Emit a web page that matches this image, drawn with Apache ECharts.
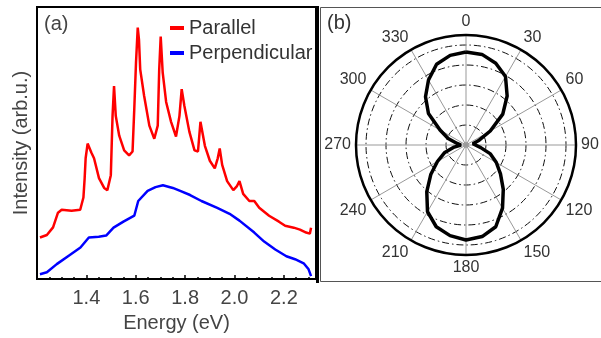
<!DOCTYPE html>
<html>
<head>
<meta charset="utf-8">
<script src="https://cdn.jsdelivr.net/npm/echarts@6/dist/echarts.min.js"></script>
<style>
  html, body { margin: 0; padding: 0; background: #fff; }
  #chart { width: 601px; height: 338px; }
</style>
</head>
<body>
<div id="chart"></div>
<script>
// panel (a): spectra (energy in eV, intensity in arb. units)
var parallelEnergy = [1.212, 1.24, 1.265, 1.285, 1.30, 1.34, 1.375, 1.388, 1.393, 1.397, 1.405, 1.411, 1.42, 1.431, 1.451, 1.472, 1.485, 1.499, 1.506, 1.512, 1.519, 1.533, 1.553, 1.573, 1.587, 1.594, 1.601, 1.608, 1.613, 1.618, 1.634, 1.655, 1.675, 1.689, 1.695, 1.701, 1.709, 1.723, 1.743, 1.763, 1.777, 1.786, 1.797, 1.817, 1.838, 1.852, 1.862, 1.868, 1.88, 1.90, 1.92, 1.932, 1.94, 1.95, 1.97, 1.995, 2.01, 2.02, 2.035, 2.06, 2.08, 2.10, 2.14, 2.18, 2.205, 2.24, 2.265, 2.29, 2.305, 2.31];
var parallel = [15.3, 16.2, 19, 24.4, 25.5, 25.1, 25.5, 30, 37, 44.4, 49.8, 49.2, 46.5, 44.4, 37.1, 33.5, 32.7, 38.2, 60, 70.9, 60, 52.7, 47.3, 45.5, 46.9, 62.5, 79.6, 92.4, 88, 77.1, 67.3, 56.4, 51.6, 56.4, 77.1, 89.1, 76, 65.1, 57.8, 52.4, 60, 69.8, 63.6, 54.2, 47.3, 46.9, 57.8, 58.5, 49, 43.5, 40.7, 44.4, 48, 42, 36, 32.7, 34.2, 36, 31.3, 28.7, 28.7, 26.2, 23.3, 21.1, 19.6, 18.9, 18.2, 17.1, 16.7, 18.9];
var perpendicularEnergy = [1.212, 1.24, 1.28, 1.33, 1.376, 1.41, 1.45, 1.48, 1.51, 1.55, 1.594, 1.61, 1.648, 1.68, 1.71, 1.75, 1.78, 1.82, 1.866, 1.93, 1.98, 2.02, 2.08, 2.12, 2.165, 2.21, 2.245, 2.28, 2.30, 2.31];
var perpendicular = [1.8, 2.5, 5.5, 8.7, 11.6, 15.3, 15.6, 16, 18.9, 21.1, 23.3, 28.7, 32.4, 33.8, 34.5, 33.5, 32.4, 30.9, 28.7, 26.2, 24, 21.5, 17.1, 13.8, 10.9, 8.4, 7.3, 5.8, 3.6, 1.1];

// panel (b): polar intensity vs angle (degrees)
var angles = [0, 10, 20, 30, 40, 50, 60, 70, 80, 90, 100, 110, 120, 130, 140, 150, 160, 170, 180, 190, 200, 210, 220, 230, 240, 250, 260, 270, 280, 290, 300, 310, 320, 330, 340, 350, 360];
var radii = [93, 92, 87, 79, 64, 48, 28, 14, 7, 5, 15, 26, 35, 45, 58, 73, 87, 93, 95, 92, 87, 77, 61, 46, 33, 23, 12, 5, 9, 19, 30, 49, 63, 75, 86, 91, 93];

var font = "Arial, 'Liberation Sans', sans-serif";

function pairs(xs, ys) {
  var out = [];
  for (var i = 0; i < xs.length; i++) {
    out.push([xs[i], ys[i]]);
  }
  return out;
}

var polarData = [];
for (var i = 0; i < angles.length; i++) {
  polarData.push([radii[i], angles[i]]);
}

var option = {
  animation: false,
  backgroundColor: '#fff',
  textStyle: { fontFamily: font },
  legend: {
    left: 165,
    top: 13,
    orient: 'vertical',
    itemWidth: 14,
    itemHeight: 4,
    itemGap: 5,
    icon: 'rect',
    textStyle: { fontSize: 20, color: '#333', fontFamily: font, lineHeight: 20 },
    data: ['Parallel', 'Perpendicular']
  },
  grid: {
    left: 37,
    top: 7,
    width: 279,
    height: 275,
    show: true,
    borderColor: '#000',
    borderWidth: 2
  },
  xAxis: {
    type: 'value',
    min: 1.2,
    max: 2.33,
    interval: 0.2,
    name: 'Energy (eV)',
    nameLocation: 'middle',
    nameGap: 33,
    nameTextStyle: { fontSize: 20, color: '#444', fontFamily: font },
    axisLine: { lineStyle: { color: '#000', width: 2 } },
    axisTick: { inside: true, length: 4, lineStyle: { color: '#000', width: 1.5 } },
    minorTick: { show: true, splitNumber: 4, length: 2, lineStyle: { color: '#000', width: 1.5 } },
    axisLabel: {
      margin: 9,
      fontSize: 20,
      color: '#444',
      fontFamily: font,
      showMinLabel: false,
      showMaxLabel: false,
      formatter: function (v) { return v.toFixed(1); }
    },
    splitLine: { show: false }
  },
  yAxis: {
    type: 'value',
    min: 0,
    max: 100,
    name: 'Intensity (arb.u.)',
    nameLocation: 'middle',
    nameGap: 6,
    nameTextStyle: { fontSize: 20, color: '#444', fontFamily: font },
    axisLine: { show: false },
    axisTick: { show: false },
    axisLabel: { show: false },
    splitLine: { show: false }
  },
  polar: {
    center: [466, 145],
    radius: 110
  },
  angleAxis: {
    type: 'value',
    min: 0,
    max: 360,
    interval: 30,
    startAngle: 90,
    clockwise: true,
    axisLine: { lineStyle: { color: '#000', width: 2.5 } },
    axisTick: { show: false },
    axisLabel: {
      margin: 5,
      fontSize: 16,
      color: '#333',
      fontFamily: font,
      formatter: function (v) { return v === 360 ? '' : String(v); }
    },
    splitLine: { show: true, lineStyle: { color: '#999', width: 1 } }
  },
  radiusAxis: {
    type: 'value',
    min: 0,
    max: 110,
    interval: 20,
    axisLine: { show: false },
    axisTick: { show: false },
    axisLabel: { show: false },
    splitLine: { show: true, lineStyle: { color: '#111', width: 1, type: [7, 3, 1.5, 3] } }
  },
  graphic: [
    { type: 'rect', shape: { x: 316, y: 6, width: 3, height: 277 }, style: { fill: '#000' }, z: 10 },
    { type: 'rect', shape: { x: 320.5, y: 7.5, width: 290, height: 274 }, style: { fill: null, stroke: '#555', lineWidth: 1 }, z: 10 },
    { type: 'text', left: 44, top: 14, style: { text: '(a)', fontSize: 20, fill: '#444', fontFamily: font }, z: 10 },
    { type: 'text', left: 327, top: 13, style: { text: '(b)', fontSize: 20, fill: '#333', fontFamily: font }, z: 10 }
  ],
  series: [
    {
      name: 'Parallel',
      type: 'line',
      data: pairs(parallelEnergy, parallel),
      showSymbol: false,
      color: '#ff0000',
      lineStyle: { width: 2.5 }
    },
    {
      name: 'Perpendicular',
      type: 'line',
      data: pairs(perpendicularEnergy, perpendicular),
      showSymbol: false,
      color: '#0000ff',
      lineStyle: { width: 2.5 }
    },
    {
      name: 'polar',
      type: 'line',
      coordinateSystem: 'polar',
      data: polarData,
      showSymbol: false,
      color: '#000',
      lineStyle: { width: 3.5 }
    },
    {
      name: 'center',
      type: 'scatter',
      coordinateSystem: 'polar',
      data: [[0, 0]],
      symbolSize: 6,
      itemStyle: { color: '#999' }
    }
  ]
};

var myChart = echarts.init(document.getElementById('chart'));
myChart.setOption(option);
</script>
</body>
</html>
